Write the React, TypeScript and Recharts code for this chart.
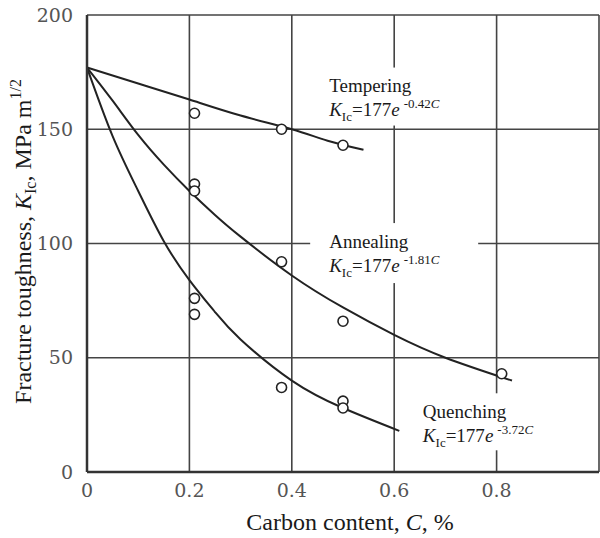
import React from "react";
import {
  ComposedChart,
  Line,
  Scatter,
  XAxis,
  YAxis,
  CartesianGrid,
  ReferenceDot,
} from "recharts";

document.body.style.margin = "0";

const SERIF = "'Liberation Serif', 'Times New Roman', serif";

const xTicks = [0, 0.2, 0.4, 0.6, 0.8, 1.0];
const yTicks = [0, 50, 100, 150, 200];

// fitted curves
const temperingC = [0, 0.1, 0.2, 0.3, 0.4, 0.47, 0.54];
const temperingK = [177, 170, 163, 156, 150, 145, 141];
const annealingC = [0, 0.05, 0.1, 0.15, 0.2, 0.25, 0.3, 0.4, 0.5, 0.6, 0.7, 0.83];
const annealingK = [177, 162.5, 147.5, 134.5, 123, 112.5, 103, 86, 72, 60, 50, 40];
const quenchingC = [0, 0.05, 0.1, 0.15, 0.2, 0.25, 0.3, 0.4, 0.5, 0.61];
const quenchingK = [177, 147, 123, 101, 84, 70, 58, 40, 28, 18];

// measured points
const pointC = [0.21, 0.21, 0.21, 0.38, 0.5, 0.38, 0.5, 0.81, 0.21, 0.21, 0.38, 0.5, 0.5];
const pointK = [157, 126, 123, 150, 143, 92, 66, 43, 76, 69, 37, 31, 28];

const labelNames = ["Tempering", "Annealing", "Quenching"];
const labelExps = ["-0.42", "-1.81", "-3.72"];
const labelC = [0.473, 0.473, 0.656];
const labelK = [166.5, 98, 23.5];

const toRows = (cs: number[], ks: number[]) => cs.map((c, i) => ({ c, k: ks[i] }));

const tempering = toRows(temperingC, temperingK);
const annealing = toRows(annealingC, annealingK);
const quenching = toRows(quenchingC, quenchingK);
const points = toRows(pointC, pointK);

// white box around each annotation (offsets from text anchor)
const boxes = [
  { dx: -7, dy: -24, w: 128, h: 58 },
  { dx: -19, dy: -25, w: 168, h: 60 },
  { dx: -12, dy: -25, w: 145, h: 57 },
];

const Annotation = ({ cx, cy, idx }: any) => {
  const b = boxes[idx];
  return (
    <g>
      <rect x={cx + b.dx} y={cy + b.dy} width={b.w} height={b.h} fill="#fff" />
      <text x={cx} y={cy} fontFamily={SERIF} fontSize={19} fill="#1a1a1a">
        {labelNames[idx]}
      </text>
      <text x={cx} y={cy + 24} fontFamily={SERIF} fontSize={19} fill="#1a1a1a">
        <tspan fontStyle="italic">K</tspan>
        <tspan fontSize={13} dy={5}>Ic</tspan>
        <tspan dy={-5}>=177</tspan>
        <tspan fontStyle="italic">e</tspan>
        <tspan fontSize={13} dy={-8} dx={4}>{labelExps[idx]}</tspan>
        <tspan fontSize={13} fontStyle="italic">C</tspan>
      </text>
    </g>
  );
};

const Circle = ({ cx, cy }: any) => (
  <circle cx={cx} cy={cy} r={5} fill="#fff" stroke="#222" strokeWidth={1.6} />
);

const YTitle = ({ viewBox }: any) => {
  const x = viewBox.x + 31;
  const y = viewBox.y + viewBox.height / 2 - 2;
  return (
    <text
      transform={`translate(${x},${y}) rotate(-90)`}
      textAnchor="middle"
      fontFamily={SERIF}
      fontSize={24}
      fill="#1a1a1a"
    >
      Fracture toughness, <tspan fontStyle="italic">K</tspan>
      <tspan fontSize={16} dy={5}>Ic</tspan>
      <tspan dy={-5}>, MPa m</tspan>
      <tspan fontSize={16} dy={-10}>1/2</tspan>
    </text>
  );
};

const XTitle = ({ viewBox }: any) => (
  <text
    x={viewBox.x + viewBox.width / 2 + 7}
    y={viewBox.y + 58}
    textAnchor="middle"
    fontFamily={SERIF}
    fontSize={24}
    fill="#1a1a1a"
  >
    Carbon content, <tspan fontStyle="italic">C</tspan>, %
  </text>
);

const tickStyle = { fontFamily: "'DejaVu Serif', serif", fontSize: 19, fill: "#555" };

export default function App() {
  return (
    <div style={{ width: 600, height: 538, background: "#fff" }}>
      <ComposedChart width={600} height={538} margin={{ top: 15, right: 1, bottom: 0, left: 0 }}>
        <CartesianGrid stroke="#444" strokeWidth={1.6} />
        <XAxis
          type="number"
          dataKey="c"
          domain={[0, 1]}
          ticks={xTicks}
          tickFormatter={(v: number) => (v === 1 ? "" : v === 0 ? "0" : v.toFixed(1))}
          tick={tickStyle}
          tickLine={false}
          axisLine={{ stroke: "#333", strokeWidth: 2.5 }}
          height={66}
          tickMargin={6}
          label={XTitle}
        />
        <YAxis
          type="number"
          dataKey="k"
          domain={[0, 200]}
          ticks={yTicks}
          tick={tickStyle}
          tickLine={false}
          axisLine={{ stroke: "#333", strokeWidth: 2.5 }}
          width={87}
          tickMargin={8}
          label={YTitle}
        />
        <Line data={tempering} dataKey="k" type="natural" stroke="#222" strokeWidth={2} dot={false} isAnimationActive={false} />
        <Line data={annealing} dataKey="k" type="natural" stroke="#222" strokeWidth={2} dot={false} isAnimationActive={false} />
        <Line data={quenching} dataKey="k" type="natural" stroke="#222" strokeWidth={2} dot={false} isAnimationActive={false} />
        {labelNames.map((name, i) => (
          <ReferenceDot
            key={name}
            x={labelC[i]}
            y={labelK[i]}
            r={0}
            ifOverflow="visible"
            shape={(p: any) => <Annotation cx={p.cx} cy={p.cy} idx={i} />}
          />
        ))}
        <Scatter data={points} dataKey="k" shape={Circle} isAnimationActive={false} />
      </ComposedChart>
    </div>
  );
}
